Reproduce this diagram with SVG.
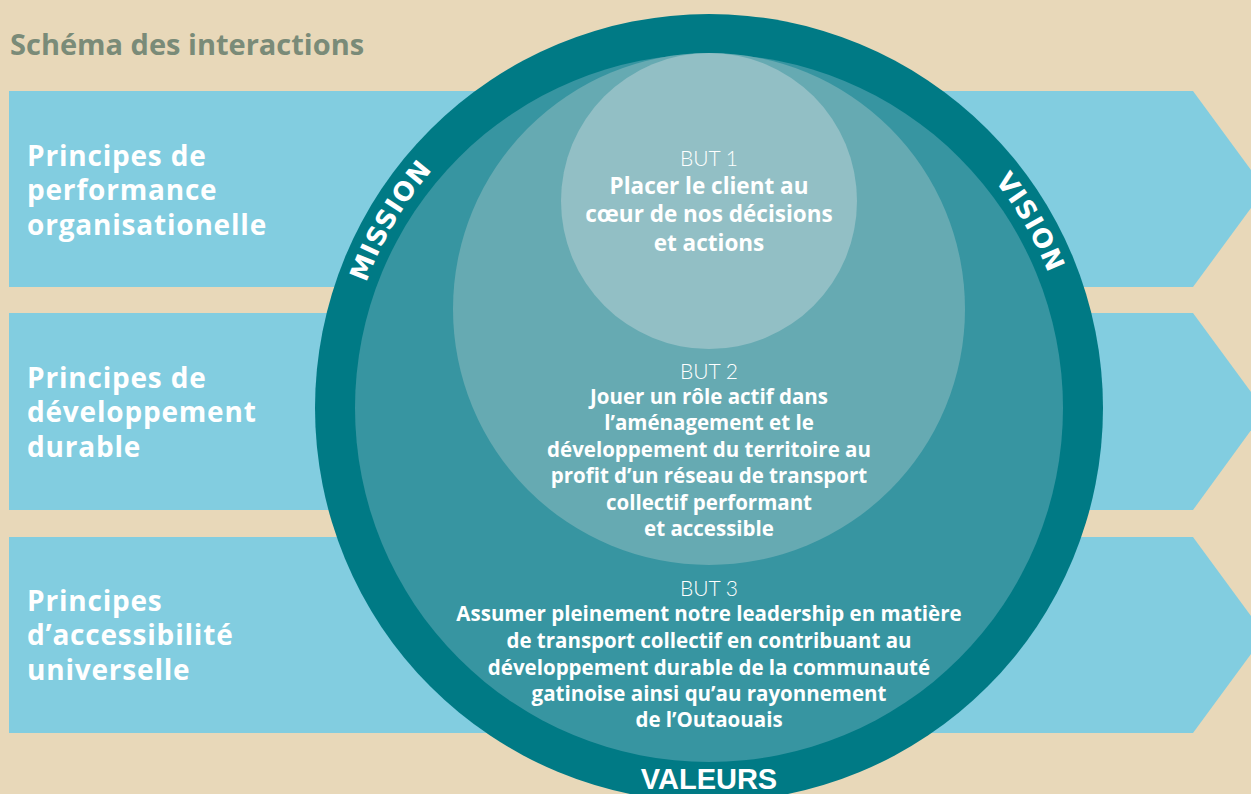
<svg xmlns="http://www.w3.org/2000/svg" width="1251" height="794" viewBox="0 0 1251 794">
<style>
.bg{fill:#E8D8B9}
.band{fill:#82CDE0}
.lbl{font-family:"Open Sans","Noto Sans","Liberation Sans",sans-serif;font-weight:700;font-size:28px;letter-spacing:0.8px;fill:#FFFFFF}
.title{font-family:"Open Sans","Noto Sans","Liberation Sans",sans-serif;font-weight:700;font-size:29px;fill:#7A8B78}
.but{font-family:Lato,"Open Sans","Liberation Sans",sans-serif;font-weight:300;font-size:21px;fill:#FFFFFF;text-anchor:middle}
.g1{font-family:"Open Sans","Noto Sans","Liberation Sans",sans-serif;font-weight:700;font-size:22.5px;fill:#FFFFFF;text-anchor:middle}
.g2{font-family:"Open Sans","Noto Sans","Liberation Sans",sans-serif;font-weight:700;font-size:20.5px;fill:#FFFFFF;text-anchor:middle}
.ring{font-family:"DejaVu Sans",sans-serif;font-weight:700;font-size:26px;fill:#FFFFFF;letter-spacing:1px}
.val{font-family:"Liberation Sans",Arial,sans-serif;font-weight:700;font-size:29px;fill:#FFFFFF;text-anchor:middle}
</style>
<defs>
<path id="arc" d="M 344,408 A 365 365 0 1 1 1074,408 A 365 365 0 1 1 344,408"/>
</defs>
<rect class="bg" x="0" y="0" width="1251" height="794"/>
<text id="title" class="title" x="10" y="55">Schéma des interactions</text>
<g id="row1">
<polygon class="band" points="9,91 1193,91 1265,189 1193,287 9,287"/>
<text class="lbl" x="27" y="166">Principes de</text>
<text class="lbl" x="27" y="200">performance</text>
<text class="lbl" x="27" y="235">organisationelle</text>
</g>
<g id="row2">
<polygon class="band" points="9,313 1193,313 1265,411 1193,510 9,510"/>
<text class="lbl" x="27" y="388">Principes de</text>
<text class="lbl" x="27" y="422">développement</text>
<text class="lbl" x="27" y="457">durable</text>
</g>
<g id="row3">
<polygon class="band" points="9,537 1193,537 1265,635 1193,733 9,733"/>
<text class="lbl" x="27" y="611">Principes</text>
<text class="lbl" x="27" y="645">d’accessibilité</text>
<text class="lbl" x="27" y="680">universelle</text>
</g>
<g id="ring">
<circle cx="709" cy="408" r="394" fill="#007A85"/>
<text class="ring"><textPath href="#arc" startOffset="194" text-anchor="middle">MISSION</textPath></text>
<text class="ring"><textPath href="#arc" startOffset="955" text-anchor="middle">VISION</textPath></text>
<text class="val" x="709" y="789">VALEURS</text>
</g>
<g id="but3">
<circle cx="709" cy="408" r="354" fill="#3795A1"/>
<text class="but" x="709" y="596">BUT 3</text>
<text class="g2" x="709" y="621">Assumer pleinement notre leadership en matière</text>
<text class="g2" x="709" y="648">de transport collectif en contribuant au</text>
<text class="g2" x="709" y="675">développement durable de la communauté</text>
<text class="g2" x="709" y="701">gatinoise ainsi qu’au rayonnement</text>
<text class="g2" x="709" y="727">de l’Outaouais</text>
</g>
<g id="but2">
<circle cx="709" cy="309" r="256" fill="#66AAB2"/>
<text class="but" x="709" y="379">BUT 2</text>
<text class="g2" x="709" y="404">Jouer un rôle actif dans</text>
<text class="g2" x="709" y="430">l’aménagement et le</text>
<text class="g2" x="709" y="457">développement du territoire au</text>
<text class="g2" x="709" y="483">profit d’un réseau de transport</text>
<text class="g2" x="709" y="510">collectif performant</text>
<text class="g2" x="709" y="536">et accessible</text>
</g>
<g id="but1">
<circle cx="709" cy="201" r="148" fill="#92BFC5"/>
<text class="but" x="709" y="166">BUT 1</text>
<text class="g1" x="709" y="194">Placer le client au</text>
<text class="g1" x="709" y="222">cœur de nos décisions</text>
<text class="g1" x="709" y="251">et actions</text>
</g>
</svg>
